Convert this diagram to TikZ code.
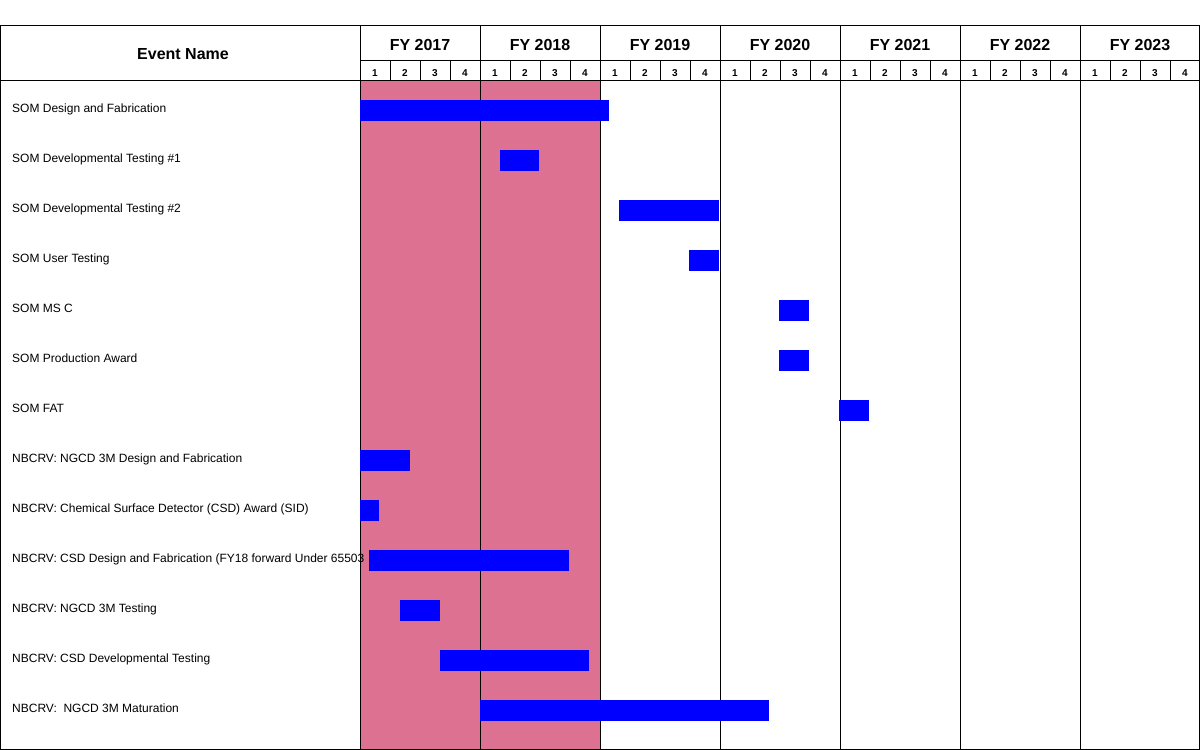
\documentclass[tikz,border=0pt]{standalone}
\usepackage{fontspec}
\setmainfont{Liberation Sans}
\usetikzlibrary{positioning}
\definecolor{fypink}{RGB}{220,113,146}
\definecolor{barblue}{RGB}{0,0,255}
\tikzset{
  font=\fontsize{12}{14}\selectfont,
  grid/.style ={draw=black, line width=1pt},
  hdr/.style  ={font=\fontsize{16}{18}\selectfont\bfseries, inner sep=0pt, anchor=base},
  qtr/.style  ={font=\fontsize{10}{12}\selectfont\bfseries, inner sep=0pt, anchor=base},
  evt/.style  ={inner sep=0pt, anchor=base west},
  bar/.style  ={fill=barblue, inner sep=0pt, outer sep=0pt, minimum height=21pt, anchor=north west},
}

\begin{document}
\begin{tikzpicture}[x=1pt, y=-1pt]
  \useasboundingbox (0,0) rectangle (1200,750);

  % shaded fiscal years
  \fill[fypink] (360,80) rectangle (600,749);

  % header
  \node[hdr] (evname) at (183,59) {Event Name};
  \foreach \fy [count=\i from 0] in {2017,...,2023} {
    \node[hdr] (fy\fy) at (420+120*\i,50) {FY \fy};
    \foreach \q in {1,...,4}
      \node[qtr] (q\fy\q) at (345+120*\i+30*\q,76) {\q};
  }

  % grid
  \draw[grid] (0,25) rectangle (1199,749);
  \draw[grid] (0,80) -- (1200,80);
  \draw[grid] (360,60) -- (1200,60);
  \foreach \i in {0,...,6}
    \draw[grid] (360+120*\i,25) -- (360+120*\i,749);
  \foreach \i in {0,...,6}
    \foreach \q in {1,2,3}
      \draw[grid] (360+120*\i+30*\q,60) -- (360+120*\i+30*\q,80);

  % events
  \node[evt] (e1)  at (12,112) {SOM Design and Fabrication};
  \node[evt] (e2)  at (12,162) {SOM Developmental Testing \#1};
  \node[evt] (e3)  at (12,212) {SOM Developmental Testing \#2};
  \node[evt] (e4)  at (12,262) {SOM User Testing};
  \node[evt] (e5)  at (12,312) {SOM MS C};
  \node[evt] (e6)  at (12,362) {SOM Production Award};
  \node[evt] (e7)  at (12,412) {SOM FAT};
  \node[evt] (e8)  at (12,462) {NBCRV: NGCD 3M Design and Fabrication};
  \node[evt] (e9)  at (12,512) {NBCRV: Chemical Surface Detector (CSD) Award (SID)};
  \node[evt] (e10) at (12,562) {NBCRV: CSD Design and Fabrication (FY18 forward Under 65503};
  \node[evt] (e11) at (12,612) {NBCRV: NGCD 3M Testing};
  \node[evt] (e12) at (12,662) {NBCRV: CSD Developmental Testing};
  \node[evt] (e13) at (12,712) {NBCRV:\ \ NGCD 3M Maturation};

  % bars
  \node[bar, minimum width=249pt] (b1)  at (360,100) {};
  \node[bar, minimum width=39pt]  (b2)  at (500,150) {};
  \node[bar, minimum width=100pt] (b3)  at (619,200) {};
  \node[bar, minimum width=30pt]  (b4)  at (689,250) {};
  \node[bar, minimum width=30pt]  (b5)  at (779,300) {};
  \node[bar, minimum width=30pt]  (b6)  at (779,350) {};
  \node[bar, minimum width=30pt]  (b7)  at (839,400) {};
  \node[bar, minimum width=50pt]  (b8)  at (360,450) {};
  \node[bar, minimum width=19pt]  (b9)  at (360,500) {};
  \node[bar, minimum width=200pt] (b10) at (369,550) {};
  \node[bar, minimum width=40pt]  (b11) at (400,600) {};
  \node[bar, minimum width=149pt] (b12) at (440,650) {};
  \node[bar, minimum width=289pt] (b13) at (480,700) {};
\end{tikzpicture}
\end{document}
